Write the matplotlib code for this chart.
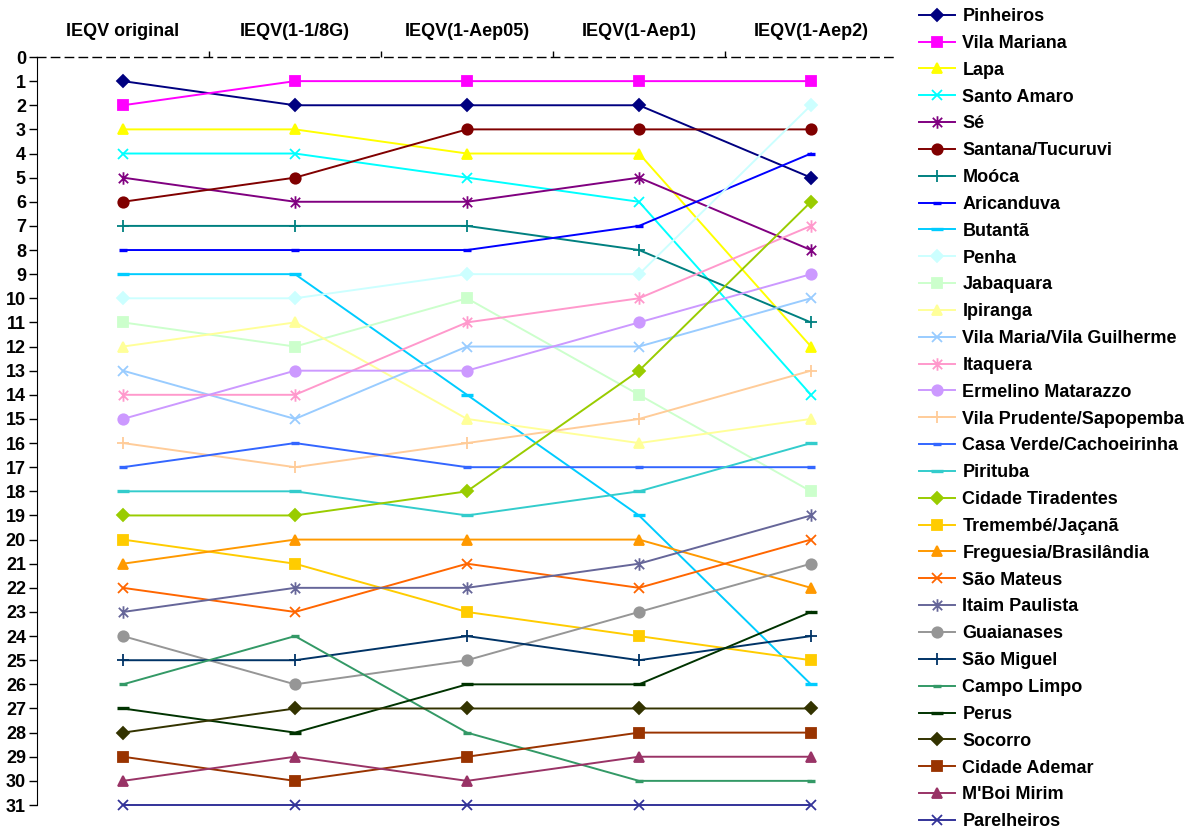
import matplotlib.pyplot as plt
from matplotlib.path import Path

plt.rcParams['font.family'] = ['Liberation Sans', 'DejaVu Sans']
plt.rcParams['font.weight'] = 'bold'

categorias = ['IEQV original', 'IEQV(1-1/8G)', 'IEQV(1-Aep05)', 'IEQV(1-Aep1)', 'IEQV(1-Aep2)']

subprefeituras = [
    'Pinheiros', 'Vila Mariana', 'Lapa', 'Santo Amaro', 'Sé', 'Santana/Tucuruvi',
    'Moóca', 'Aricanduva', 'Butantã', 'Penha', 'Jabaquara', 'Ipiranga',
    'Vila Maria/Vila Guilherme', 'Itaquera', 'Ermelino Matarazzo',
    'Vila Prudente/Sapopemba', 'Casa Verde/Cachoeirinha', 'Pirituba',
    'Cidade Tiradentes', 'Tremembé/Jaçanã', 'Freguesia/Brasilândia',
    'São Mateus', 'Itaim Paulista', 'Guaianases', 'São Miguel', 'Campo Limpo',
    'Perus', 'Socorro', 'Cidade Ademar', "M'Boi Mirim", 'Parelheiros',
]

# posição no ranking em cada versão do índice
rank_original = [1, 2, 3, 4, 5, 6, 7, 8, 9, 10, 11, 12, 13, 14, 15, 16, 17, 18,
                 19, 20, 21, 22, 23, 24, 25, 26, 27, 28, 29, 30, 31]
rank_8g = [2, 1, 3, 4, 6, 5, 7, 8, 9, 10, 12, 11, 15, 14, 13, 17, 16, 18,
           19, 21, 20, 23, 22, 26, 25, 24, 28, 27, 30, 29, 31]
rank_aep05 = [2, 1, 4, 5, 6, 3, 7, 8, 14, 9, 10, 15, 12, 11, 13, 16, 17, 19,
              18, 23, 20, 21, 22, 25, 24, 28, 26, 27, 29, 30, 31]
rank_aep1 = [2, 1, 4, 6, 5, 3, 8, 7, 19, 9, 14, 16, 12, 10, 11, 15, 17, 18,
             13, 24, 20, 22, 21, 23, 25, 30, 26, 27, 28, 29, 31]
rank_aep2 = [5, 1, 12, 14, 8, 3, 11, 4, 26, 2, 18, 15, 10, 7, 9, 13, 17, 16,
             6, 25, 22, 20, 19, 21, 24, 30, 23, 27, 28, 29, 31]

cores = [
    '#000080', '#FF00FF', '#FFFF00', '#00FFFF', '#800080', '#800000',
    '#008080', '#0000FF', '#00CCFF', '#CCFFFF', '#CCFFCC', '#FFFF99',
    '#99CCFF', '#FF99CC', '#CC99FF', '#FFCC99', '#3366FF', '#33CCCC',
    '#99CC00', '#FFCC00', '#FF9900', '#FF6600', '#666699', '#969696',
    '#003366', '#339966', '#003300', '#333300', '#993300', '#993366', '#333399',
]

# marcador "estrela" do Excel: X com traço vertical
estrela = Path([(0, -1), (0, 1), (-0.75, -0.75), (0.75, 0.75), (-0.75, 0.75), (0.75, -0.75)],
               [Path.MOVETO, Path.LINETO, Path.MOVETO, Path.LINETO, Path.MOVETO, Path.LINETO])
traco_curto = Path([(-0.5, 0), (0.5, 0)], [Path.MOVETO, Path.LINETO])
traco_longo = Path([(-1, 0), (1, 0)], [Path.MOVETO, Path.LINETO])

ciclo = [('D', 6), ('s', 7.5), ('^', 7.5), ('x', 7.5), (estrela, 9), ('o', 7.5),
         ('+', 9), (traco_curto, 6), (traco_longo, 8)]

series = list(zip(rank_original, rank_8g, rank_aep05, rank_aep1, rank_aep2))
x = list(range(len(categorias)))

fig = plt.figure(figsize=(11.9, 8.34), dpi=100)
ax = fig.add_axes([37 / 1190, 1 - 805 / 834, 860 / 1190, 748 / 834])

for i, (nome, valores, cor) in enumerate(zip(subprefeituras, series, cores)):
    marcador, tam = ciclo[i % len(ciclo)]
    traco = i % len(ciclo) in (7, 8)
    ax.plot(x, valores, color=cor, lw=1.4, marker=marcador, markersize=tam,
            markerfacecolor=cor, markeredgecolor=cor,
            markeredgewidth=2.4 if traco else 1.3,
            label=nome, clip_on=False)

ax.set_xlim(-0.5, 4.5)
ax.set_ylim(31, 0)
ax.set_yticks(range(0, 32))
ax.tick_params(axis='y', direction='out', length=6, width=1, labelsize=13, pad=2)

ax.xaxis.tick_top()
ax.set_xticks(x)
ax.set_xticklabels(categorias, fontsize=13, fontweight='bold')
ax.set_xticks([0.5, 1.5, 2.5, 3.5], minor=True)
ax.tick_params(axis='x', which='major', length=0, pad=12.5)
ax.tick_params(axis='x', which='minor', direction='out', length=4, width=1, top=True)

ax.spines['right'].set_visible(False)
ax.spines['bottom'].set_visible(False)
ax.spines['top'].set_linestyle((0, (6, 4)))
ax.spines['top'].set_linewidth(1)

ax.legend(loc='upper left', bbox_to_anchor=(919 / 1190, 1 - 8 / 834),
          bbox_transform=fig.transFigure, frameon=False,
          labelspacing=0.545, handlelength=2.0, handletextpad=0.4,
          borderpad=0, borderaxespad=0, prop={'weight': 'bold', 'size': 13})

fig.savefig('out.png', dpi=100)
